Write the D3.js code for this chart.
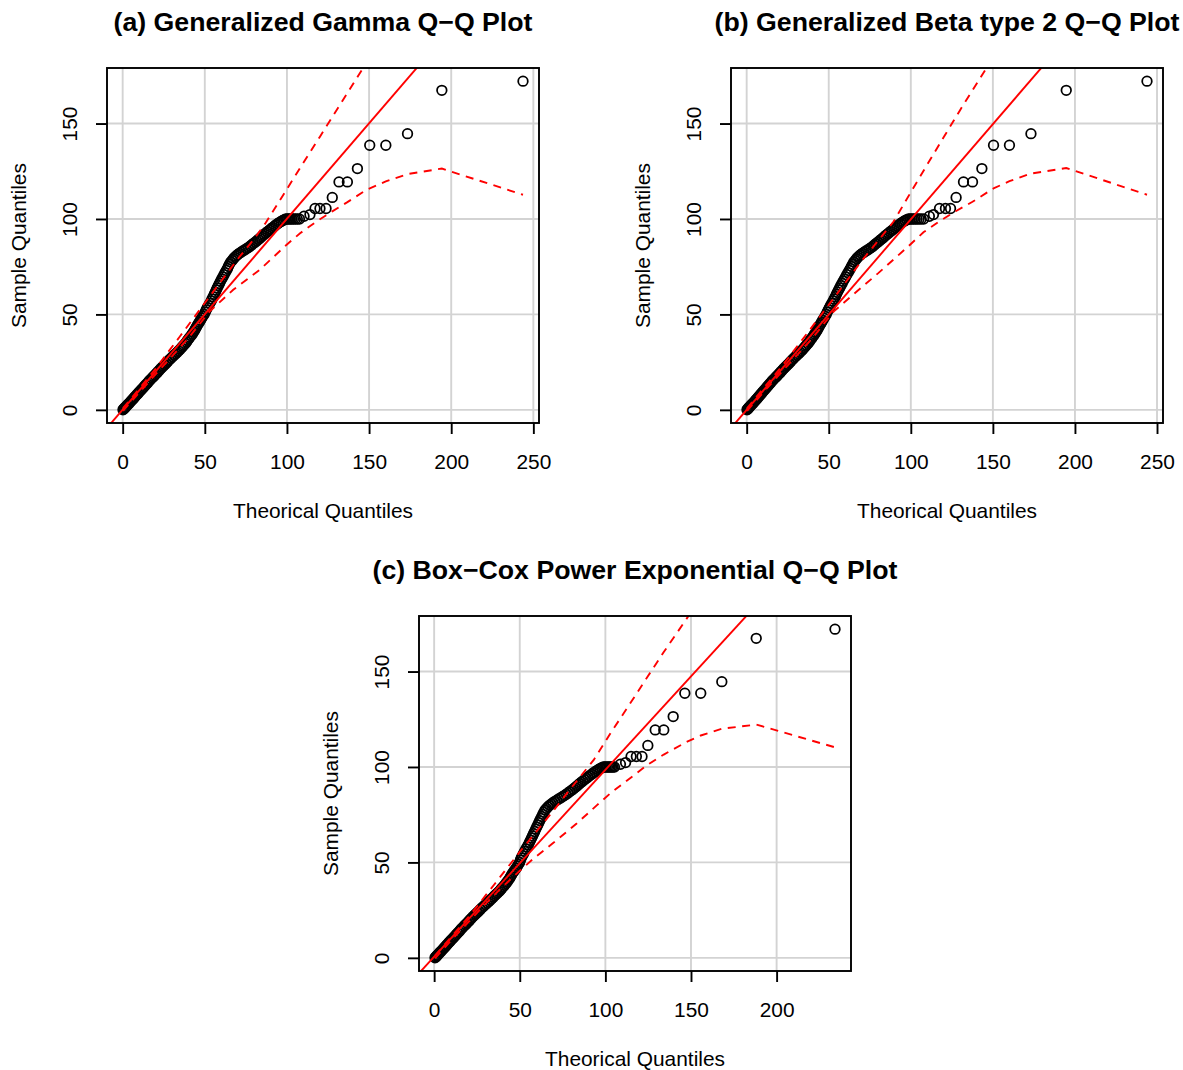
<!DOCTYPE html>
<html><head><meta charset="utf-8">
<script src="https://cdn.jsdelivr.net/npm/d3@7"></script>
<style>
body{margin:0;background:#fff}
svg{display:block}
text{font-family:"Liberation Sans",Arial,Helvetica,sans-serif;fill:#000}
</style>
</head><body>
<svg id="chart" width="1183" height="1070"></svg>
<script>
// ---- data ----
const sampleQ = [
0,0.4,0.9,1.3,1.8,2.4,3.0,3.5,4.1,4.8,5.4,6.0,6.7,7.3,8.0,8.6,9.3,10.0,10.8,11.5,
12.2,13.0,13.7,14.5,15.2,16.0,16.8,17.5,18.3,19.1,19.9,20.7,21.5,22.3,23.0,23.8,24.6,25.4,26.2,27.0,
27.8,28.6,29.4,30.2,31.0,31.8,32.5,33.3,34.0,34.8,35.6,36.4,37.2,38.0,38.9,39.8,40.7,41.6,42.5,43.4,
44.3,45.2,46.1,47.0,48.0,49.0,50.0,
51.2,52.4,53.5,54.6,55.8,57.0,58.1,59.3,60.5,61.6,62.8,63.9,65.1,66.2,67.4,68.5,69.6,70.8,71.9,73.0,
74.1,75.2,76.3,77.4,
78.3,79.1,79.9,80.6,81.3,82.0,82.6,83.2,83.8,84.4,85.0,85.7,86.4,87.1,87.8,88.5,89.2,89.9,90.6,91.3,
92.0,92.7,93.4,94.1,94.8,95.5,96.2,96.9,97.5,98.1,98.7,99.2,99.6,
100,100,100,100,100,100,100,100,100,
101.4,102.3,105.5,105.5,105.5,111.3,119.4,119.4,126.4,138.6,138.6,144.7,167.4,172.2
];
const theoGG = [
0.2,0.6,1.1,1.6,2.1,2.7,3.4,4.0,4.6,5.3,6.0,6.6,7.3,7.9,8.7,9.3,10.0,10.8,11.6,12.4,
13.1,13.9,14.7,15.5,16.2,17.1,18.0,18.8,19.6,20.5,21.4,22.3,23.1,24.0,24.8,25.7,26.6,27.5,28.4,29.4,
30.3,31.3,32.3,33.2,34.1,35.0,35.8,36.6,37.3,38.1,38.8,39.5,40.2,40.9,41.7,42.4,43.1,43.7,44.3,44.9,
45.5,46.1,46.8,47.4,48.1,48.8,49.5,
50.3,50.9,51.5,52.3,53.1,53.9,54.4,55.1,55.8,56.4,57.0,57.6,58.3,58.9,59.6,60.3,61.0,61.7,62.4,63.1,
63.8,64.4,65.0,65.8,
66.6,67.4,68.2,69.0,69.9,71.0,72.0,73.1,74.2,75.3,76.5,77.5,78.5,79.5,80.6,81.6,82.6,83.5,84.4,85.2,
86.2,87.2,88.2,89.3,90.2,91.2,92.3,93.3,94.3,95.3,96.4,97.4,98.4,
99.3,100.2,101.1,102.0,103.0,104.0,105.1,106.3,107.6,
110.4,114.0,117.1,120.1,123.8,127.6,131.7,136.8,142.9,150.4,160.2,173.4,194.3,243.7
];
const theoGB2 = [
0.2,0.6,1.1,1.5,2.0,2.6,3.3,3.9,4.5,5.2,5.8,6.4,7.1,7.7,8.4,9.0,9.7,10.4,11.2,11.9,
12.6,13.4,14.1,14.9,15.6,16.5,17.4,18.2,19.0,19.9,20.8,21.7,22.5,23.4,24.2,25.1,26.0,26.9,27.8,28.7,
29.6,30.6,31.6,32.5,33.4,34.3,35.0,35.8,36.5,37.3,38.0,38.7,39.4,40.1,40.8,41.5,42.2,42.8,43.4,44.0,
44.6,45.2,45.8,46.4,47.1,47.8,48.4,
49.1,49.8,50.4,51.1,51.9,52.7,53.3,54.0,54.7,55.3,56.0,56.7,57.4,58.1,58.8,59.6,60.3,61.0,61.8,62.5,
63.2,63.9,64.6,65.3,
66.1,66.9,67.7,68.5,69.4,70.5,71.5,72.6,73.7,74.8,75.9,76.9,77.8,78.8,79.8,80.8,81.8,82.8,83.7,84.6,
85.6,86.6,87.6,88.6,89.6,90.6,91.6,92.6,93.6,94.6,95.6,96.6,97.6,
98.6,99.6,100.6,101.6,102.7,103.8,105.0,106.3,107.8,
111.3,113.8,117.5,121.1,124.2,127.6,132.1,137.6,143.3,150.4,160.1,173.2,194.7,243.9
];
const theoBCPE = [
0.5,0.9,1.4,1.8,2.3,2.9,3.5,4.1,4.7,5.4,6.0,6.6,7.3,7.9,8.6,9.2,9.9,10.7,11.5,12.2,
12.9,13.7,14.5,15.2,15.9,16.8,17.6,18.4,19.2,20.1,20.9,21.8,22.6,23.5,24.3,25.2,26.1,27.0,27.9,28.9,
29.8,30.8,31.8,32.7,33.6,34.5,35.3,36.2,37.0,37.9,38.7,39.5,40.3,41.1,41.9,42.6,43.3,44.0,44.6,45.2,
45.8,46.5,47.2,47.9,48.6,49.3,49.9,
50.4,50.9,51.5,52.2,52.9,53.6,54.3,55.0,55.7,56.3,56.9,57.5,58.1,58.7,59.3,59.9,60.5,61.1,61.7,62.3,
62.9,63.5,64.1,64.8,
65.6,66.5,67.4,68.4,69.4,70.5,71.6,72.7,73.8,74.9,76.0,77.1,78.2,79.2,80.3,81.3,82.3,83.2,84.1,85.0,
85.9,86.9,87.9,88.9,89.9,90.9,92.0,93.0,94.0,95.0,96.0,97.0,98.0,
98.8,99.6,100.4,101.2,102.0,102.8,103.6,104.4,105.3,
108.8,111.8,115.0,118.1,121.4,124.8,129.1,134.1,139.6,146.4,155.7,168.0,188.1,234.1
];

// confidence envelopes (dashed)
const loXa = [0.2,10,20,30,40,53,67.3,83.5,99.8,108,118,127.6,136.8,148.6,160.2,173.4,194.3,243.7];
const loYa = [-0.6,9,18.6,28,37.6,51.6,62.9,73.4,86.5,92.5,98.7,104,108.8,115.4,119.7,123.5,126.4,112.7];
const hiXa = [0.2,10,20,34.8,50,60,70,80,87,100,110,120,130,146.5,160.2,173.4,194.3,243.7];
const hiYa = [0.9,11,21.5,38.4,56,67.5,79,89.5,97.9,115.7,129.4,143,156.7,179.3,198,216,245,312];

const loXb = [0.2,10,20,30,40,53,65,80,97.6,107.7,117.5,127.6,137.6,150.4,160.1,173.2,194.7,243.9];
const loYb = [-0.6,9,18.6,28,37.5,51.5,60.5,71.5,85,93,98.8,104.2,109,116,119.8,123.8,126.7,112.7];
const hiXb = [0.2,10,20,35,50,60,70,80,89.4,100,110,120,130,146.3,160.1,173.2,194.7,243.9];
const hiYb = [0.8,11,21.3,38,55,66.5,78,88.5,98.5,114,128.5,142.8,157,179.3,199,218,247,315];

const loXc = [0.5,10,20,30,40,50,58,70,83.4,95.1,102.9,115,124.4,134.1,147.8,155.7,168,188.1,234.1];
const loYc = [-0.3,9.2,18.7,28.3,37.3,45.6,52,60.5,70.5,80,86.2,94.5,101,106.5,113.3,116.5,120,122.2,110.3];
const hiXc = [0.5,10,20,35,50,60,70,80,93.2,102.9,115,124.8,134.1,148.7,155.7,168,188.1,234.1];
const hiYc = [1.2,11,21.3,38.3,55.5,66.5,77.5,89,103.7,117.5,134,147.5,160.2,179.3,189,205.5,232,290];

// reference lines
const refIntercept = [0.1, 0.0, 0.6];
const refSlope = [1.0, 0.998, 0.979];

// texts & ticks
const titles = ["(a) Generalized Gamma Q\u2212Q Plot","(b) Generalized Beta type 2 Q\u2212Q Plot","(c) Box\u2212Cox Power Exponential Q\u2212Q Plot"];
const xLabel = "Theorical Quantiles";
const yLabel = "Sample Quantiles";
const xTicksAB = [0,50,100,150,200,250];
const xTicksC = [0,50,100,150,200];
const yTicks = [0,50,100,150];

// ---- layout ----
const panels = [
  {i:0, theo:theoGG,   lo:[loXa,loYa], hi:[hiXa,hiYa], xt:xTicksAB, left:107, top:68,  w:432, h:355},
  {i:1, theo:theoGB2,  lo:[loXb,loYb], hi:[hiXb,hiYb], xt:xTicksAB, left:731, top:68,  w:432, h:355},
  {i:2, theo:theoBCPE, lo:[loXc,loYc], hi:[hiXc,hiYc], xt:xTicksC,  left:419, top:616, w:432, h:355}
];
const FS = 20.9, TFS = 26.7;
const svg = d3.select("#chart");
const pad = e => { const r = e[1]-e[0]; return [e[0]-0.04*r, e[1]+0.04*r]; };

panels.forEach(p => {
  const x = d3.scaleLinear().domain(pad(d3.extent(p.theo))).range([0, p.w]);
  const y = d3.scaleLinear().domain(pad(d3.extent(sampleQ))).range([p.h, 0]);
  const g = svg.append("g").attr("transform", `translate(${p.left},${p.top})`);
  const cid = "clip" + p.i;
  g.append("clipPath").attr("id", cid).append("rect").attr("width", p.w).attr("height", p.h);
  const plot = g.append("g").attr("clip-path", `url(#${cid})`);

  // grid
  plot.selectAll(".gx").data(p.xt).join("line")
    .attr("x1", d => x(d)).attr("x2", d => x(d)).attr("y1", 0).attr("y2", p.h)
    .attr("stroke", "#d3d3d3").attr("stroke-width", 1.9);
  plot.selectAll(".gy").data(yTicks).join("line")
    .attr("y1", d => y(d)).attr("y2", d => y(d)).attr("x1", 0).attr("x2", p.w)
    .attr("stroke", "#d3d3d3").attr("stroke-width", 1.9);

  // points
  const pts = p.theo.map((t, k) => [t, sampleQ[k]]);
  plot.selectAll("circle").data(pts).join("circle")
    .attr("cx", d => x(d[0])).attr("cy", d => y(d[1])).attr("r", 4.8)
    .attr("fill", "none").attr("stroke", "#000").attr("stroke-width", 1.75);

  // reference line
  const xd = x.domain();
  plot.append("line")
    .attr("x1", x(xd[0])).attr("y1", y(refIntercept[p.i] + refSlope[p.i]*xd[0]))
    .attr("x2", x(xd[1])).attr("y2", y(refIntercept[p.i] + refSlope[p.i]*xd[1]))
    .attr("stroke", "#ff0000").attr("stroke-width", 1.9);

  // envelopes
  const ln = d3.line().x(d => x(d[0])).y(d => y(d[1]));
  [p.lo, p.hi].forEach(b => {
    plot.append("path").attr("d", ln(b[0].map((v, k) => [v, b[1][k]])))
      .attr("fill", "none").attr("stroke", "#ff0000").attr("stroke-width", 1.9)
      .attr("stroke-dasharray", "8,6.5");
  });

  // box
  g.append("rect").attr("width", p.w).attr("height", p.h)
    .attr("fill", "none").attr("stroke", "#000").attr("stroke-width", 1.9);

  // x axis
  const ax = g.append("g").attr("transform", `translate(0,${p.h})`)
    .call(d3.axisBottom(x).tickValues(p.xt).tickSize(11).tickFormat(d3.format("d")));
  ax.select(".domain").remove();
  ax.selectAll(".tick line").attr("stroke", "#000").attr("stroke-width", 1.9);
  ax.selectAll(".tick text").attr("y", 39 + 0.358*FS).attr("dy", null)
    .style("font-size", FS + "px").attr("fill", "#000");

  // y axis
  const ay = g.append("g")
    .call(d3.axisLeft(y).tickValues(yTicks).tickSize(11).tickFormat(d3.format("d")));
  ay.select(".domain").remove();
  ay.selectAll(".tick line").attr("stroke", "#000").attr("stroke-width", 1.9);
  ay.selectAll(".tick text").attr("x", null).attr("dy", null).attr("y", null)
    .attr("text-anchor", "middle")
    .attr("transform", `translate(${-37 + 0.358*FS},0) rotate(-90)`)
    .style("font-size", FS + "px").attr("fill", "#000");

  // axis titles
  g.append("text").attr("x", p.w/2).attr("y", p.h + 88 + 0.358*FS)
    .attr("text-anchor", "middle").style("font-size", FS + "px").text(xLabel);
  g.append("text").attr("text-anchor", "middle")
    .attr("transform", `translate(${-88 + 0.358*FS},${p.h/2}) rotate(-90)`)
    .style("font-size", FS + "px").text(yLabel);

  // main title
  g.append("text").attr("x", p.w/2).attr("y", -47 + 0.358*TFS)
    .attr("text-anchor", "middle").style("font-size", TFS + "px").style("font-weight", "bold")
    .text(titles[p.i]);
});
</script>
</body></html>
